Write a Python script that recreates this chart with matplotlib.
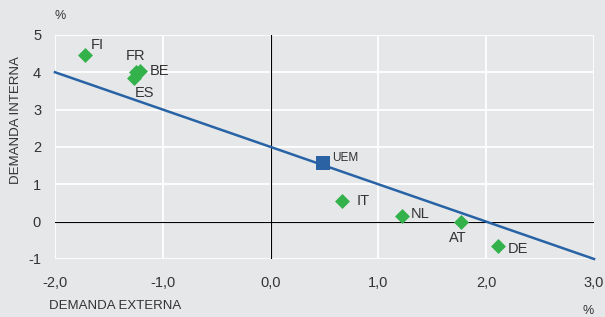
import matplotlib.pyplot as plt
import numpy as np

plt.rcParams['font.family'] = ['Liberation Sans', 'DejaVu Sans']
plt.rcParams['axes.unicode_minus'] = False

# Country data (external demand, internal demand), %
countries = ['FI', 'FR', 'BE', 'ES', 'IT', 'NL', 'AT', 'DE']
ext_dem = [-1.72, -1.25, -1.21, -1.27, 0.66, 1.22, 1.77, 2.11]
int_dem = [4.46, 4.00, 4.03, 3.85, 0.56, 0.16, 0.00, -0.65]
uem_x, uem_y = 0.49, 1.56

# Reference line: internal = 2 - external
line_x = np.array([-2.0, 3.0])
line_y = 2.0 - line_x

# label offsets in points
offsets = {'FI': (4, 7), 'FR': (-7, 12), 'BE': (7, 0), 'ES': (1, -11),
           'IT': (11, 0), 'NL': (6, 1), 'AT': (-9, -11.5), 'DE': (7, -2)}

bg = '#e6e7e9'
txt = '#333333'
fig = plt.figure(figsize=(6.05, 3.17), dpi=100, facecolor=bg)
ax = fig.add_axes([0.0909, 0.183, 0.891, 0.707], facecolor=bg)

ax.set_xlim(-2, 3)
ax.set_ylim(-1, 5)
ax.set_xticks(np.arange(-2, 3.1, 1))
ax.set_yticks(np.arange(-1, 5.1, 1))
ax.set_xticklabels(['-2,0', '-1,0', '0,0', '1,0', '2,0', '3,0'])
ax.grid(True, color='white', linewidth=1.3)
ax.set_axisbelow(True)
for s in ax.spines.values():
    s.set_visible(False)
ax.tick_params(length=0, labelsize=10.5, colors=txt)
ax.tick_params(axis='x', pad=12)
ax.tick_params(axis='y', pad=10)

ax.axhline(0, color='black', linewidth=0.8, zorder=1)
ax.axvline(0, color='black', linewidth=0.8, zorder=1)

ax.plot(line_x, line_y, color='#2763a5', linewidth=1.8, zorder=2, clip_on=False)
ax.scatter(ext_dem, int_dem, marker='D', s=58, color='#33b14b', zorder=3, linewidths=0)
ax.scatter([uem_x], [uem_y], marker='s', s=100, color='#2a62a4', zorder=3, linewidths=0)

for c, x, y in zip(countries, ext_dem, int_dem):
    ax.annotate(c, (x, y), xytext=offsets[c], textcoords='offset points',
                fontsize=10.5, color=txt, va='center', ha='left')
ax.annotate('UEM', (uem_x, uem_y), xytext=(6.5, 3.6), textcoords='offset points',
            fontsize=8.5, color=txt, va='center', ha='left')

fig.text(0.099, 0.95, '%', fontsize=9, color=txt, ha='center', va='center')
fig.text(0.972, 0.02, '%', fontsize=9, color=txt, ha='center', va='center')
fig.text(0.081, 0.035, 'DEMANDA EXTERNA', fontsize=9.5, color=txt, ha='left', va='center')
fig.text(0.027, 0.62, 'DEMANDA INTERNA', fontsize=9.5, color=txt, ha='center', va='center',
         rotation=90)

fig.savefig('out.png', dpi=100, facecolor=bg)
